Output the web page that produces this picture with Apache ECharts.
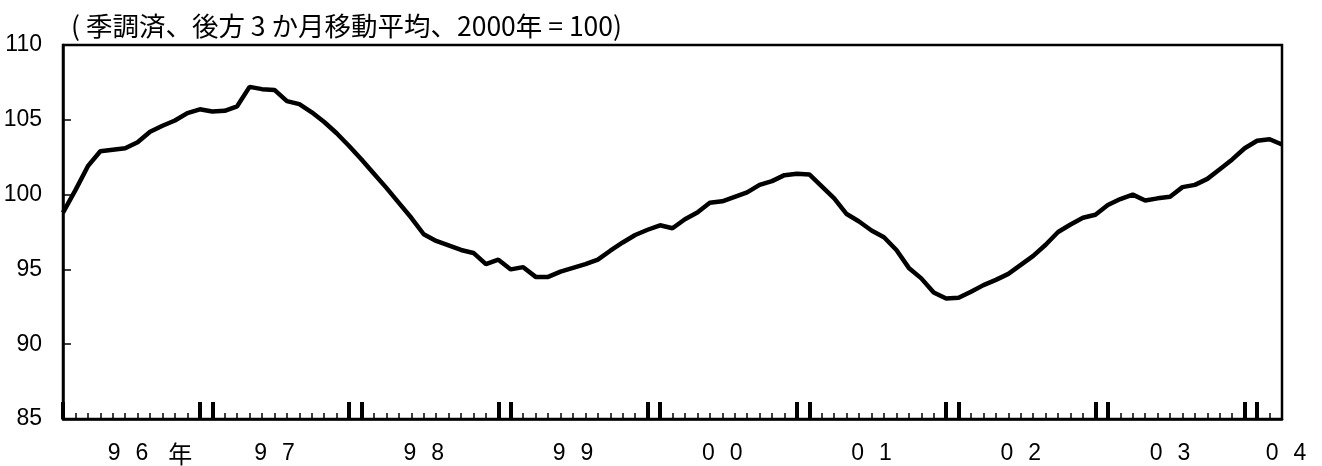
<!DOCTYPE html>
<html><head><meta charset="utf-8">
<script src="https://cdn.jsdelivr.net/npm/echarts@6/dist/echarts.min.js"></script>
<style>html,body{margin:0;padding:0;background:#fff}#c{width:1322px;height:466px}</style>
</head><body><div id="c"></div>
<script>
// Monthly series, Jan 1996 .. Mar 2004
const startYear = 1996;
const monthCount = 99;
const yearLabels = ['9 6', '9 7', '9 8', '9 9', '0 0', '0 1', '0 2', '0 3', '0 4'];
const yearSuffix = '年';
const titleText = '( 季調済、後方 3 か月移動平均、2000年 = 100)';
const yTicks = [85, 90, 95, 100, 105, 110];
const values = [
  98.8, 100.3, 101.9, 102.9, 103.0, 103.1, 103.5, 104.2, 104.6, 104.95, 105.45, 105.7,
  105.55, 105.6, 105.9, 107.2, 107.05, 107.0, 106.25, 106.05, 105.5, 104.85, 104.1, 103.25,
  102.35, 101.4, 100.45, 99.45, 98.45, 97.35, 96.9, 96.6, 96.3, 96.1, 95.35, 95.65,
  95.0, 95.15, 94.5, 94.5, 94.85, 95.1, 95.35, 95.65, 96.25, 96.8, 97.3, 97.65,
  97.95, 97.75, 98.35, 98.8, 99.45, 99.55, 99.85, 100.15, 100.65, 100.9, 101.3, 101.4,
  101.35, 100.55, 99.75, 98.7, 98.2, 97.6, 97.15, 96.3, 95.1, 94.4, 93.45, 93.05,
  93.1, 93.5, 93.95, 94.3, 94.7, 95.3, 95.9, 96.65, 97.5, 98.0, 98.45, 98.65,
  99.3, 99.7, 100.0, 99.6, 99.75, 99.85, 100.5, 100.65, 101.05, 101.7, 102.35, 103.1,
  103.6, 103.7, 103.35
];

const categories = [];
for (let i = 0; i < monthCount; i++) {
  categories.push((startYear + Math.floor(i / 12)) + '-' + String(i % 12 + 1).padStart(2, '0'));
}

// label positions (category index -> year label index)
function labelFor(idx) {
  if (idx === 7) return 0;               // "9 6 年" (wider, centred further right)
  if (idx === monthCount - 1) return 8;  // "0 4" at right edge
  if (idx >= 17 && (idx - 5) % 12 === 0) return (idx - 5) / 12;
  return -1;
}
function digits(s) {
  const p = s.split(' ');
  return '{d|' + p[0] + '}{s| }{d|' + p[1] + '}';
}

const digitFont = '"Liberation Sans", Arial, sans-serif';
const cjkFont = '"Noto Sans CJK JP", sans-serif';

const chart = echarts.init(document.getElementById('c'), null, {renderer: 'canvas'});
chart.setOption({
  animation: false,
  backgroundColor: '#fff',
  title: {
    text: titleText,
    left: 66, top: 8,
    textStyle: {fontFamily: cjkFont, fontSize: 26.5, fontWeight: 'normal', color: '#000'}
  },
  grid: {left: 63, right: 40, top: 45, bottom: 47, show: true, borderColor: '#000', borderWidth: 2.5, backgroundColor: 'transparent'},
  xAxis: [{
    type: 'category', data: categories, boundaryGap: false, position: 'bottom',
    axisLine: {show: true, lineStyle: {color: '#000', width: 2.5}},
    axisTick: {show: true, inside: true, length: 6, interval: 0, lineStyle: {color: '#000', width: 1.5}},
    splitLine: {show: false},
    axisLabel: {
      show: true, margin: 23,
      interval: (idx) => labelFor(idx) >= 0,
      formatter: (val, idx) => {
        const li = labelFor(idx);
        if (li < 0) return '';
        if (li === 0) return digits(yearLabels[0]) + '{g| }{y|' + yearSuffix + '}';
        if (li === 8) return '{p| }' + digits(yearLabels[8]);
        return digits(yearLabels[li]);
      },
      rich: {
        d: {fontFamily: digitFont, fontSize: 23, color: '#000'},
        s: {fontFamily: digitFont, fontSize: 23, width: 15},
        g: {fontFamily: digitFont, fontSize: 23, width: 20},
        p: {fontFamily: digitFont, fontSize: 23, width: 8},
        y: {fontFamily: cjkFont, fontSize: 24, color: '#000'}
      }
    }
  }, {
    type: 'category', data: categories, boundaryGap: false, position: 'bottom',
    axisLine: {show: false},
    axisTick: {show: true, inside: true, length: 17,
      interval: (idx) => idx % 12 === 0 || idx % 12 === 11,
      lineStyle: {color: '#000', width: 4}},
    axisLabel: {show: false},
    splitLine: {show: false}
  }],
  yAxis: {
    type: 'value', min: yTicks[0], max: yTicks[yTicks.length - 1], interval: 5,
    axisLine: {show: true, lineStyle: {color: '#000', width: 2.5}},
    axisTick: {show: true, inside: true, length: 8, lineStyle: {color: '#000', width: 1.5}},
    splitLine: {show: false},
    axisLabel: {margin: 21, fontFamily: digitFont, fontSize: 23, color: '#000'}
  },
  series: [{
    type: 'line', data: values, xAxisIndex: 0, symbol: 'none', smooth: false,
    lineStyle: {color: '#000', width: 4.5}, z: 5
  }]
});
</script></body></html>
